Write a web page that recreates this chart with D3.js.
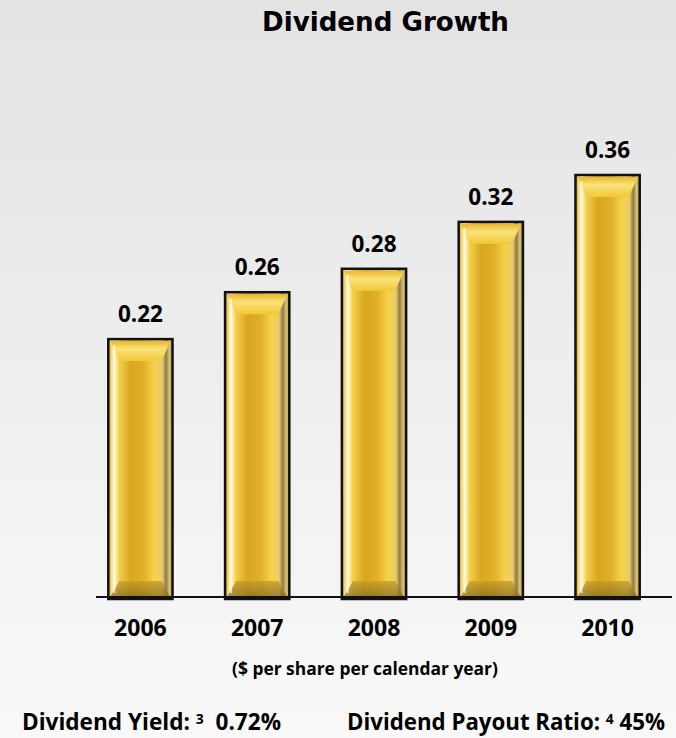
<!DOCTYPE html>
<html>
<head>
<meta charset="utf-8">
<script src="https://cdn.jsdelivr.net/npm/d3@7"></script>
<style>
  html, body { margin: 0; padding: 0; }
  body { width: 676px; height: 738px; overflow: hidden; }
  svg { display: block; }
</style>
</head>
<body>
<div id="chart"></div>
<script>
(function() {
    const width = 676;
    const height = 738;

    // données
    const years = ["2006", "2007", "2008", "2009", "2010"];
    const dividends = [0.22, 0.26, 0.28, 0.32, 0.36];
    const title = "Dividend Growth";
    const subtitle = "($ per share per calendar year)";
    const yieldLabel = "Dividend Yield: ", yieldNote = "3", yieldValue = "\u00a0 0.72%";
    const payoutLabel = "Dividend Payout Ratio: ", payoutNote = "4", payoutValue = " 45%";

    const labelFont = "'Open Sans', 'Noto Sans', sans-serif";

    const svg = d3.select("#chart").append("svg")
        .attr("width", width).attr("height", height);

    // ajuste la taille de police pour obtenir la largeur voulue
    function fitWidth(sel, target) {
        const fs = parseFloat(sel.attr("font-size"));
        const w = sel.node().getComputedTextLength();
        if (w > 0) sel.attr("font-size", (fs * target / w).toFixed(2));
        return sel;
    }

    const defs = svg.append("defs");

    const bg = defs.append("linearGradient").attr("id", "bg")
        .attr("x1", 0).attr("y1", 0).attr("x2", 0).attr("y2", 1);
    bg.append("stop").attr("offset", "0%").attr("stop-color", "#e3e3e3");
    bg.append("stop").attr("offset", "100%").attr("stop-color", "#f9f9f9");

    // dégradé horizontal du lingot
    const gold = defs.append("linearGradient").attr("id", "gold")
        .attr("x1", 0).attr("y1", 0).attr("x2", 1).attr("y2", 0);
    [[0, "#c99a1c"], [0.05, "#f4dc86"], [0.1, "#fff6cf"], [0.17, "#f3cf4a"],
     [0.35, "#d9a620"], [0.55, "#e0b028"], [0.72, "#f6d24a"], [0.84, "#e9cc6a"],
     [0.9, "#8e7a48"], [0.95, "#d8c27a"], [1, "#b8962e"]]
        .forEach(([o, c]) => gold.append("stop").attr("offset", o).attr("stop-color", c));

    const topBevel = defs.append("linearGradient").attr("id", "topBevel")
        .attr("x1", 0).attr("y1", 0).attr("x2", 0).attr("y2", 1);
    topBevel.append("stop").attr("offset", "0%").attr("stop-color", "#e8b830");
    topBevel.append("stop").attr("offset", "40%").attr("stop-color", "#fbe27a");
    topBevel.append("stop").attr("offset", "100%").attr("stop-color", "#f2c838");

    const botBevel = defs.append("linearGradient").attr("id", "botBevel")
        .attr("x1", 0).attr("y1", 0).attr("x2", 0).attr("y2", 1);
    botBevel.append("stop").attr("offset", "0%").attr("stop-color", "#c89a22");
    botBevel.append("stop").attr("offset", "100%").attr("stop-color", "#7e6a2a");

    svg.append("rect").attr("width", width).attr("height", height).attr("fill", "url(#bg)");

    const x = d3.scaleBand().domain(years).range([82, 666])
        .paddingInner(0.45).paddingOuter(0.225);
    const y = d3.scaleLinear().domain([0, 0.36]).range([597, 175]);

    // titre
    fitWidth(svg.append("text")
        .attr("x", 385.5).attr("y", 31)
        .attr("text-anchor", "middle")
        .attr("font-family", "'DejaVu Sans', Verdana, sans-serif")
        .attr("font-weight", "bold").attr("font-size", 26)
        .text(title), 247);

    const data = years.map((yr, i) => ({ year: yr, val: dividends[i] }));

    const bars = svg.selectAll(".bar").data(data).join("g").attr("class", "bar");

    bars.each(function(d) {
        const g = d3.select(this);
        const x0 = x(d.year), w = x.bandwidth();
        const y0 = y(d.val), y1 = y(0) + 2;
        const bev = 22, inset = 11;

        g.append("rect")
            .attr("x", x0).attr("y", y0).attr("width", w).attr("height", y1 - y0)
            .attr("fill", "url(#gold)")
            .attr("stroke", "#111").attr("stroke-width", 2.5);

        g.append("polygon")
            .attr("points", [[x0 + 2, y0 + 2], [x0 + w - 2, y0 + 2],
                             [x0 + w - inset, y0 + bev], [x0 + inset, y0 + bev]].join(" "))
            .attr("fill", "url(#topBevel)");

        g.append("polygon")
            .attr("points", [[x0 + inset, y1 - bev + 4], [x0 + w - inset, y1 - bev + 4],
                             [x0 + w - 2, y1 - 2], [x0 + 2, y1 - 2]].join(" "))
            .attr("fill", "url(#botBevel)").attr("opacity", 0.75);

        // reflet vertical
        g.append("line")
            .attr("x1", x0 + 6).attr("x2", x0 + 6)
            .attr("y1", y0 + 6).attr("y2", y1 - 6)
            .attr("stroke", "#fffbe6").attr("stroke-width", 2).attr("opacity", 0.7);
    });

    // axe
    svg.append("line")
        .attr("x1", 96).attr("x2", 672)
        .attr("y1", y(0)).attr("y2", y(0))
        .attr("stroke", "#111").attr("stroke-width", 2);

    // valeurs
    svg.selectAll(".val").data(data).join("text")
        .attr("class", "val")
        .attr("x", d => x(d.year) + x.bandwidth() / 2)
        .attr("y", d => y(d.val) - 17)
        .attr("text-anchor", "middle")
        .attr("font-family", labelFont).attr("font-weight", "bold").attr("font-size", 22.5)
        .text(d => d3.format(".2f")(d.val));

    // années
    svg.selectAll(".year").data(data).join("text")
        .attr("class", "year")
        .attr("x", d => x(d.year) + x.bandwidth() / 2)
        .attr("y", 636)
        .attr("text-anchor", "middle")
        .attr("font-family", labelFont).attr("font-weight", "bold").attr("font-size", 23)
        .text(d => d.year);

    fitWidth(svg.append("text")
        .attr("x", 365).attr("y", 675)
        .attr("text-anchor", "middle")
        .attr("font-family", labelFont).attr("font-weight", "bold").attr("font-size", 16)
        .text(subtitle), 266);

    function noteLine(xPos, label, note, value, target) {
        const t = svg.append("text")
            .attr("x", xPos).attr("y", 730)
            .attr("font-family", labelFont).attr("font-weight", "bold").attr("font-size", 22);
        t.append("tspan").text(label);
        t.append("tspan").attr("dy", "-0.42em").attr("font-size", "0.62em").text(note);
        t.append("tspan").attr("dy", "0.26em").text(value);
        fitWidth(t, target);
    }
    noteLine(22, yieldLabel, yieldNote, yieldValue, 259);
    noteLine(347, payoutLabel, payoutNote, payoutValue, 318);
})();
</script>
</body>
</html>
